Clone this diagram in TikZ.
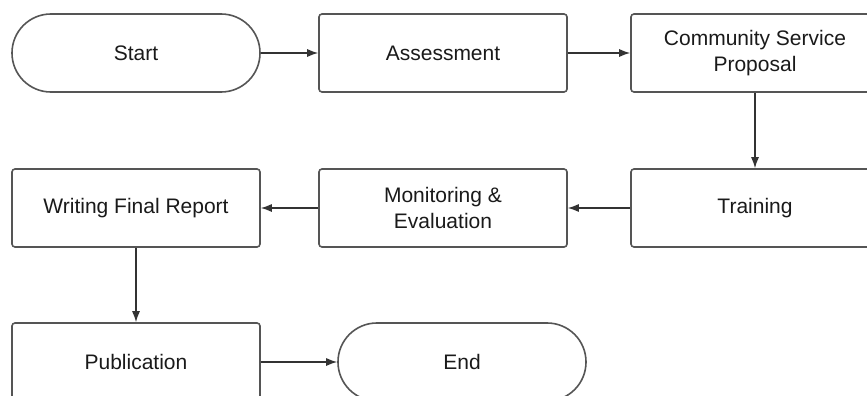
\documentclass[tikz,border=0pt]{standalone}
\usepackage{fontspec}
\setmainfont{Liberation Sans}
\usetikzlibrary{arrows.meta}
\definecolor{boxline}{HTML}{555555}
\definecolor{arrowline}{HTML}{333333}
\definecolor{txt}{HTML}{1A1A1A}
\tikzset{
  procbox/.style={draw=boxline, line width=1.6pt, fill=white, rounded corners=3pt,
    minimum width=248pt, minimum height=78pt, align=center, inner sep=2pt,
    text=txt, font=\fontsize{21}{26}\selectfont},
  termbox/.style={procbox, rounded corners=38.9pt},
  conn/.style={draw=arrowline, line width=1.2pt, -{Latex[length=11pt,width=8pt]}}
}
\begin{document}
\begin{tikzpicture}[x=1pt,y=-1pt]
\useasboundingbox (0,0) rectangle (867,396);
\clip (0,0) rectangle (867,396);
\node[termbox] (start) at (136,53) {Start};
\node[procbox] (assess) at (443,53) {Assessment};
\node[procbox] (csp) at (755,53) {Community Service\\Proposal};
\node[procbox] (train) at (755,208) {Training};
\node[procbox] (monitor) at (443,208) {Monitoring \&\\Evaluation};
\node[procbox] (write) at (136,208) {Writing Final Report};
\node[procbox] (pub) at (136,362) {Publication};
\node[termbox] (end) at (462,362) {End};
\draw[conn] (start.east) -- (assess.west);
\draw[conn] (assess.east) -- (csp.west);
\draw[conn] (csp.south) -- (train.north);
\draw[conn] (train.west) -- (monitor.east);
\draw[conn] (monitor.west) -- (write.east);
\draw[conn] (write.south) -- (pub.north);
\draw[conn] (pub.east) -- (end.west);
\end{tikzpicture}
\end{document}
